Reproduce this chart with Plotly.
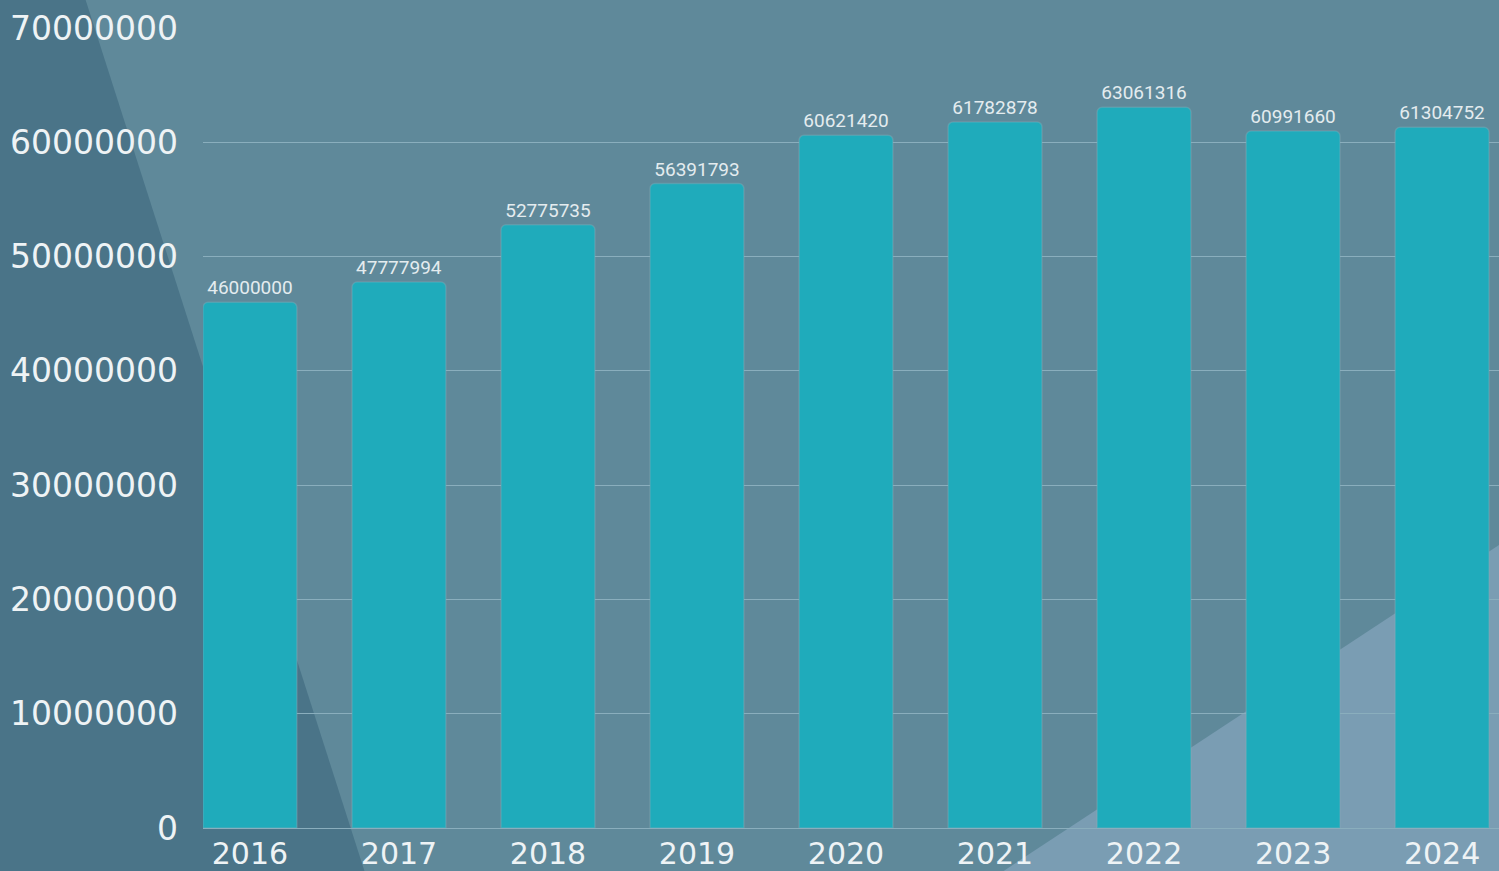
import plotly.graph_objects as go

# Annual totals
years = ["2016", "2017", "2018", "2019", "2020", "2021", "2022", "2023", "2024"]
values = [46000000, 47777994, 52775735, 56391793, 60621420,
          61782878, 63061316, 60991660, 61304752]
y_ticks = [0, 10000000, 20000000, 30000000, 40000000,
           50000000, 60000000, 70000000]

W, H = 1499, 871
ML, MR, MT, MB = 203, 0, 28, 43
PW, PH = W - ML - MR, H - MT - MB


def to_paper(px, py):
    """Pixel position on the page -> paper coordinates of the plot area."""
    return (px - ML) / PW, (H - MB - py) / PH


def poly_path(points):
    pts = [to_paper(x, y) for x, y in points]
    return "M " + " L ".join(f"{x:.4f},{y:.4f}" for x, y in pts) + " Z"


BASE = "#5f899a"
DARK = "#4a7488"
LIGHT = "#7a9db3"
BAR = "#1fabbb"
GRID = "#8aaebd"
TEXT = "#eef3f5"

fig = go.Figure(
    go.Bar(
        x=years,
        y=values,
        text=[str(v) for v in values],
        textposition="outside",
        textfont=dict(family="Roboto", size=19, color="#e4ecef"),
        marker=dict(color=BAR,
                    line=dict(color="rgba(140,175,185,0.35)", width=1.5),
                    cornerradius=5),
        cliponaxis=False,
        hoverinfo="x+y",
    )
)

fig.update_layout(
    width=W,
    height=H,
    margin=dict(l=ML, r=MR, t=MT, b=MB, pad=0, autoexpand=False),
    paper_bgcolor=BASE,
    plot_bgcolor="rgba(0,0,0,0)",
    bargap=0.37,
    showlegend=False,
    shapes=[
        # darker diagonal band on the left
        dict(type="path", xref="paper", yref="paper", layer="below",
             path=poly_path([(-5, -5), (84, -5), (366, 876), (-5, 876)]),
             fillcolor=DARK, line=dict(width=0)),
        # lighter wedge in the lower right
        dict(type="path", xref="paper", yref="paper", layer="below",
             path=poly_path([(996, 876), (1505, 541), (1505, 876)]),
             fillcolor=LIGHT, line=dict(width=0)),
    ],
)

fig.update_xaxes(
    type="category",
    range=[-0.315, 8.382],
    automargin=False,
    showgrid=False,
    showline=False,
    ticks="",
    tickfont=dict(family="DejaVu Sans", size=30, color=TEXT),
    ticklabelstandoff=5,
)

fig.update_yaxes(
    range=[0, 70000000],
    automargin=False,
    tickvals=y_ticks,
    ticktext=[str(v) for v in y_ticks],
    showgrid=True,
    gridcolor=GRID,
    gridwidth=1.2,
    zeroline=True,
    zerolinecolor=GRID,
    zerolinewidth=1.2,
    showline=False,
    ticks="",
    tickfont=dict(family="DejaVu Sans", size=33, color=TEXT),
    ticklabelstandoff=24,
)

fig.write_html("out.html")
